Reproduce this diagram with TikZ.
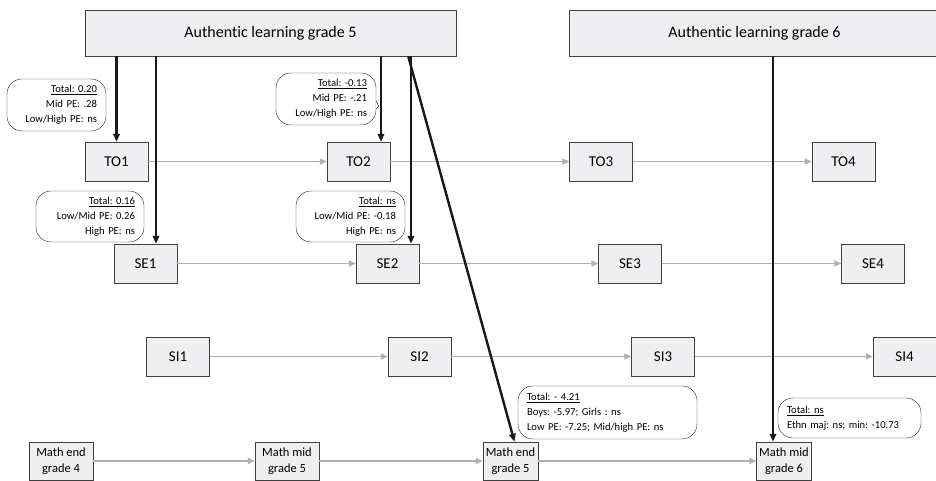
\documentclass[tikz,border=0pt]{standalone}
\usepackage{fontspec}
\setmainfont{Carlito}[Ligatures=CommonOff]
\frenchspacing
\usetikzlibrary{positioning,arrows.meta,calc}
\definecolor{boxfill}{RGB}{239,239,242}
\definecolor{flowgray}{RGB}{176,176,176}

\begin{document}
\begin{tikzpicture}[x=1pt, y=-1pt,
  wave/.style={draw=black!75, fill=boxfill, minimum width=371pt, minimum height=46pt, font=\fontsize{16}{18}\selectfont, inner sep=0pt},
  meas/.style={draw=black!75, fill=boxfill, minimum width=63pt, minimum height=39pt, font=\fontsize{15}{17}\selectfont, inner sep=0pt},
  mathbox/.style={draw=black!75, fill=boxfill, minimum width=64pt, minimum height=38pt, align=center, font=\fontsize{12.5}{16}\selectfont, inner sep=1pt},
  note/.style={draw=black!85, rounded corners=15pt, fill=white, font=\fontsize{10.6}{15}\selectfont, inner xsep=9pt, inner ysep=2pt},
  flowline/.style={-{Triangle[length=7pt,width=6pt]}, flowgray, line width=1.3pt},
  eff/.style={-{Triangle[length=8pt,width=6.5pt]}, black!90, line width=2.4pt}
]
\useasboundingbox (0,0) rectangle (936,481);
% waves of authentic learning
\node[wave] (al5) at (270.5,33) {Authentic learning grade 5};
\node[wave] (al6) at (754.5,33) {Authentic learning grade 6};
% measures
\node[meas] (to1) at (116.5,161.5) {TO1};
\node[meas] (to2) at (358.5,161.5) {TO2};
\node[meas] (to3) at (601,161.5) {TO3};
\node[meas] (to4) at (843.5,161.5) {TO4};
\node[meas] (se1) at (145.5,263.5) {SE1};
\node[meas] (se2) at (387.5,263.5) {SE2};
\node[meas] (se3) at (630,263.5) {SE3};
\node[meas] (se4) at (873,263.5) {SE4};
\node[meas] (si1) at (178,356.5) {SI1};
\node[meas] (si2) at (419.5,356.5) {SI2};
\node[meas] (si3) at (663,356.5) {SI3};
\node[meas] (si4) at (904.5,356.5) {SI4};
\node[mathbox] (m4e) at (61,461) {Math end\\grade 4};
\node[mathbox] (m5m) at (287,461) {Math mid\\grade 5};
\node[mathbox, minimum width=55pt] (m5e) at (510.5,461) {Math end\\grade 5};
\node[mathbox, minimum width=55pt] (m6m) at (784,461) {Math mid\\grade 6};
% growth over time
\draw[flowline] (to1) -- (to2); \draw[flowline] (to2) -- (to3); \draw[flowline] (to3) -- (to4);
\draw[flowline] (se1) -- (se2); \draw[flowline] (se2) -- (se3); \draw[flowline] (se3) -- (se4);
\draw[flowline] (si1) -- (si2); \draw[flowline] (si2) -- (si3); \draw[flowline] (si3) -- (si4);
\draw[flowline] (m4e) -- (m5m); \draw[flowline] (m5m) -- (m5e); \draw[flowline] (m5e) -- (m6m);
% effects
\draw[eff] (al5.south -| to1.north) -- (to1.north);
\draw[eff] ([xshift=10.5pt]se1.north |- al5.south) -- ([xshift=10.5pt]se1.north);
\draw[eff] ([xshift=22.5pt]to2.north |- al5.south) -- ([xshift=22.5pt]to2.north);
\draw[eff] ([xshift=23.5pt]se2.north |- al5.south) -- ([xshift=23.5pt]se2.north);
\draw[eff] ([xshift=-48pt]al5.south east) -- ([xshift=4pt]m5e.north);
\draw[eff] ([xshift=-11pt]m6m.north |- al6.south) -- ([xshift=-11pt]m6m.north);
% estimates
\node[note, align=right, text width=81pt, minimum height=52pt] (n1) at (56.5,105) {\underline{Total: 0.20}\\Mid PE: .28\\Low/High PE: ns};
\node[note, align=right, text width=82pt, minimum height=52pt] (n2) at (326,99) {\underline{Total: -0.13}\\Mid PE: -.21\\Low/High PE: ns};
\draw[black!85, fill=white] ([yshift=-2pt]n2.east) -- ++(2.5,5) -- ++(-2.5,3);
\node[note, align=right, text width=90pt, minimum height=51pt] (n3) at (90,216.5) {\underline{Total: 0.16}\\Low/Mid PE: 0.26\\High PE: ns};
\node[note, align=right, text width=91pt, minimum height=51pt] (n4) at (350.5,216.5) {\underline{Total: ns}\\Low/Mid PE: -0.18\\High PE: ns};
\node[note, align=left, text width=161pt, minimum height=53pt] (n5) at (607.5,412.5) {\underline{Total: - 4.21}\\Boys: -5.97; Girls : ns\\Low PE: -7.25; Mid/high PE: ns};
\node[note, align=left, text width=125pt, minimum height=40pt] (n6) at (849.5,418) {\underline{Total: ns}\\Ethn maj: ns; min: -10.73};
\end{tikzpicture}
\end{document}
